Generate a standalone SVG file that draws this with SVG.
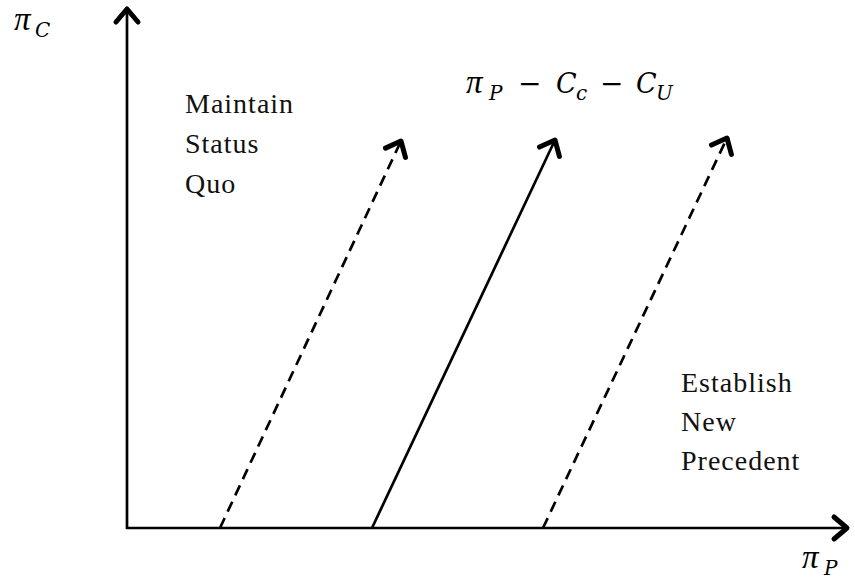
<svg xmlns="http://www.w3.org/2000/svg" width="855" height="579" viewBox="0 0 855 579">
<style>
.ax{stroke:#000;stroke-width:2.7;fill:none}
.ln{stroke:#000;stroke-width:2.7;fill:none}
.dash{stroke-dasharray:11,7}
.lbl{font-family:"Liberation Serif",serif;font-size:28px;letter-spacing:1px;fill:#111}
.m{font-family:"DejaVu Serif",serif;font-style:italic;font-size:27px;fill:#000}
.pi{font-family:"Liberation Serif",serif;font-size:33px}
.s{font-size:20px}
.op{font-style:normal;font-size:28px}
</style>
<defs>
<marker id="ah" markerUnits="userSpaceOnUse" markerWidth="40" markerHeight="40" refX="0" refY="0" viewBox="-20 -20 40 40" orient="auto" overflow="visible">
<path d="M-13,-11 L0,0 L-13,11" fill="none" stroke="#000" stroke-width="5" stroke-linecap="round" stroke-linejoin="round" stroke-dasharray="none"/>
</marker>
</defs>
<g id="connectors">
<line id="y-axis" class="ax" x1="127" y1="529" x2="127" y2="9" marker-end="url(#ah)"/>
<line id="x-axis" class="ax" x1="126" y1="528" x2="847" y2="528" marker-end="url(#ah)"/>
<line id="left-dashed" class="ln dash" x1="220" y1="528" x2="401" y2="141" marker-end="url(#ah)"/>
<line id="solid" class="ln" x1="372" y1="528" x2="555" y2="140" marker-end="url(#ah)"/>
<line id="right-dashed" class="ln dash" x1="543" y1="528" x2="727" y2="138" marker-end="url(#ah)"/>
</g>
<g id="label-piC"><text class="m" x="14" y="30"><tspan class="pi">π</tspan><tspan class="s" x="35" y="37">C</tspan></text></g>
<g id="label-piP"><text class="m" x="802" y="568"><tspan class="pi">π</tspan><tspan class="s" x="824" y="575">P</tspan></text></g>
<g id="label-formula"><text class="m" x="466" y="93"><tspan class="pi">π</tspan><tspan class="s" x="489" y="100">P</tspan><tspan class="op" x="518" y="93">−</tspan><tspan x="556" y="93">C</tspan><tspan class="s" x="576" y="100">c</tspan><tspan class="op" x="600" y="93">−</tspan><tspan x="636" y="93">C</tspan><tspan class="s" x="656" y="100">U</tspan></text></g>
<g id="label-status-quo"><text class="lbl" x="185" y="113">Maintain</text><text class="lbl" x="185" y="153">Status</text><text class="lbl" x="185" y="193">Quo</text></g>
<g id="label-precedent"><text class="lbl" x="681" y="392">Establish</text><text class="lbl" x="681" y="431">New</text><text class="lbl" x="681" y="470">Precedent</text></g>
</svg>
